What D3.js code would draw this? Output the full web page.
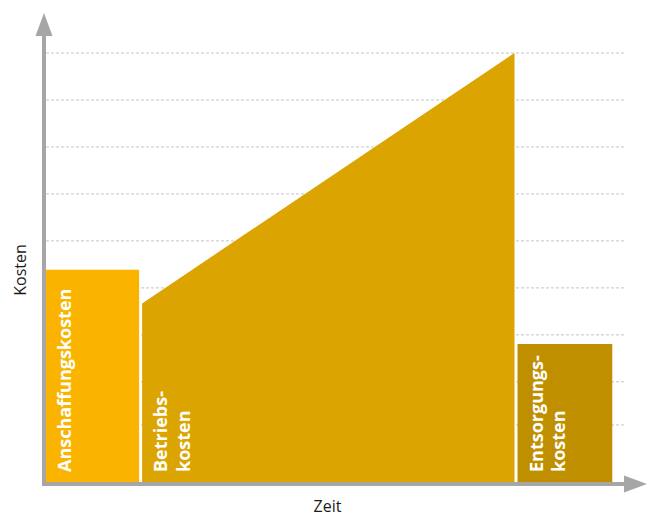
<!DOCTYPE html>
<html>
<head>
<meta charset="utf-8">
<script src="https://cdn.jsdelivr.net/npm/d3@7"></script>
<style>
  html, body { margin: 0; padding: 0; background: #fff; }
  svg { display: block; }
  text { font-family: "Open Sans", "Noto Sans", sans-serif; }
</style>
</head>
<body>
<script>
// ---- data ----
const phases = ["Anschaffungskosten", "Betriebskosten", "Entsorgungskosten"];
const labelLines = [["Anschaffungskosten"], ["Betriebs-", "kosten"], ["Entsorgungs-", "kosten"]];
const phaseStart = [0, 16.6, 81.1];
const phaseEnd = [16.6, 81.1, 97.9];
const costStart = [49.7, 41.9, 32.5];
const costEnd = [49.7, 100, 32.5];
const gridValues = [13.7, 23.7, 34.6, 45.5, 56.4, 67.3, 78.2, 89.1, 100];
const axisTitleX = "Zeit";
const axisTitleY = "Kosten";

// ---- layout ----
const W = 648, H = 517;
const colors = ["#fab400", "#dba400", "#bf8f00"];
const axisColor = "#a6a6a6";

const x = d3.scaleLinear().domain([0, 100]).range([44, 626]);
const y = d3.scaleLinear().domain([0, 100]).range([484, 53]);

const svg = d3.select("body").append("svg").attr("width", W).attr("height", H);

// gridlines
svg.append("g").selectAll("line").data(gridValues).join("line")
  .attr("x1", x(0) + 2).attr("x2", x.range()[1])
  .attr("y1", d => y(d)).attr("y2", d => y(d))
  .attr("stroke", "#c4c4c4").attr("stroke-width", 1)
  .attr("stroke-dasharray", "3,2");

// cost shapes
const gap = 1.5;
const shapes = phases.map((p, i) => ({
  name: p, i,
  pts: [
    { px: i === 0 ? x(phaseStart[i]) : x(phaseStart[i]) + gap, v: costStart[i] },
    { px: x(phaseEnd[i]) - gap, v: costEnd[i] }
  ]
}));
const area = d3.area().x(d => d.px).y0(y(0)).y1(d => y(d.v));
svg.append("g").selectAll("path").data(shapes).join("path")
  .attr("d", d => area(d.pts))
  .attr("fill", d => colors[d.i]);

// labels
const fs = 18, lh = 22.5;
const labelG = svg.append("g");
shapes.forEach(d => {
  const lines = labelLines[d.i];
  const x0 = d.pts[0].px;
  const firstBaseline = x0 + (d.i === 0 ? 27 : 25);
  lines.forEach((ln, k) => {
    const bx = firstBaseline + k * lh;
    labelG.append("text")
      .attr("transform", `translate(${bx},${y(0) - 12}) rotate(-90)`)
      .attr("fill", "#fff")
      .attr("font-size", fs)
      .attr("font-weight", 700)
      .attr("text-anchor", "start")
      .text(ln);
  });
});

// axes
const ax = svg.append("g");
const x0 = x(0), y0 = y(0);
ax.append("line").attr("x1", x0).attr("x2", x0).attr("y1", y0 + 2).attr("y2", 34)
  .attr("stroke", axisColor).attr("stroke-width", 4);
ax.append("line").attr("x1", x0 - 2).attr("x2", 626).attr("y1", y0).attr("y2", y0)
  .attr("stroke", axisColor).attr("stroke-width", 4);
ax.append("path").attr("d", d3.line()([[x0 - 8.5, 36], [x0, 13], [x0 + 8.5, 36]]) + "Z")
  .attr("fill", axisColor);
ax.append("path").attr("d", d3.line()([[624, y0 - 8.5], [647, y0], [624, y0 + 8.5]]) + "Z")
  .attr("fill", axisColor);

// axis titles
svg.append("text")
  .attr("x", 327.5).attr("y", 512)
  .attr("text-anchor", "middle").attr("font-size", 16).attr("fill", "#1a1a1a")
  .text(axisTitleX);
svg.append("text")
  .attr("transform", `translate(26,270) rotate(-90)`)
  .attr("text-anchor", "middle").attr("font-size", 16).attr("fill", "#1a1a1a")
  .text(axisTitleY);
</script>
</body>
</html>
